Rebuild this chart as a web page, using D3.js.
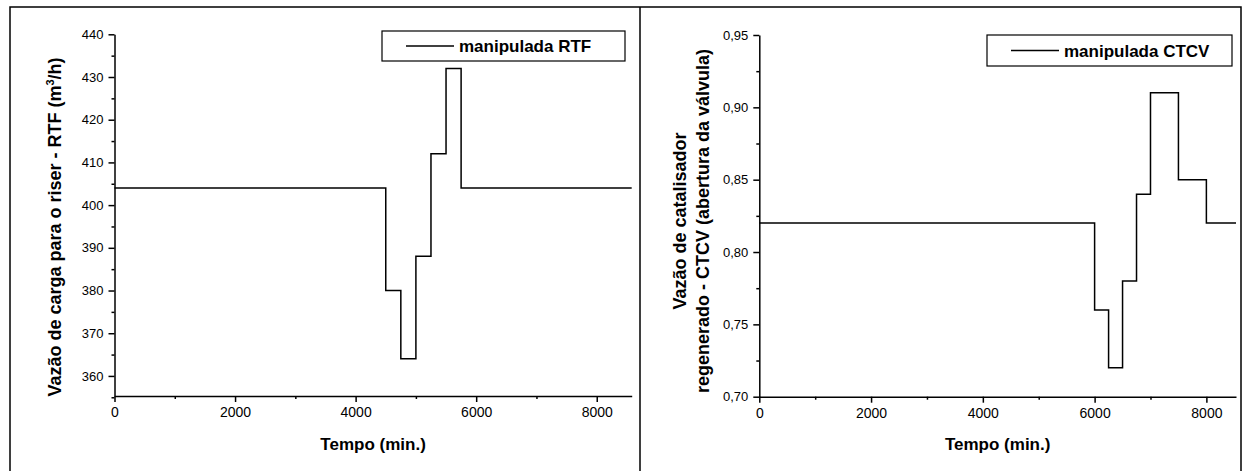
<!DOCTYPE html>
<html>
<head>
<meta charset="utf-8">
<script src="https://cdn.jsdelivr.net/npm/d3@7"></script>
<style>
  body { margin: 0; background: #fff; }
  svg { display: block; font-family: "Liberation Sans", Arial, sans-serif; }
  .tick text { fill: #000; }
</style>
</head>
<body>
<div id="chart"></div>
<script>
// data (step inputs)
const rtfTime = [0, 4500, 4750, 5000, 5250, 5500, 5750, 8580];
const rtfValue = [404, 380, 364, 388, 412, 432, 404, 404];
const ctcvTime = [0, 6000, 6250, 6500, 6750, 7000, 7500, 8000, 8530];
const ctcvValue = [0.82, 0.76, 0.72, 0.78, 0.84, 0.91, 0.85, 0.82, 0.82];

const xTicks = [0, 2000, 4000, 6000, 8000];
const xMinor = [1000, 3000, 5000, 7000];
const rtfTicks = [360, 370, 380, 390, 400, 410, 420, 430, 440];
const rtfMinor = [355, 365, 375, 385, 395, 405, 415, 425, 435];
const ctcvTicks = [0.70, 0.75, 0.80, 0.85, 0.90, 0.95];
const ctcvMinor = [0.725, 0.775, 0.825, 0.875, 0.925];

const svg = d3.select("#chart")
  .append("svg")
  .attr("width", 1242)
  .attr("height", 471);

// outer frame of the two panels
svg.append("path")
  .attr("d", "M10,471V7H1241V471 M640,7V471")
  .attr("fill", "none")
  .attr("stroke", "#000")
  .attr("stroke-width", 1.5);

function panel(opt) {
  const x = d3.scaleLinear().domain(opt.xDomain).range(opt.xRange);
  const y = d3.scaleLinear().domain(opt.yDomain).range(opt.yRange);
  const g = svg.append("g");

  // x axis
  const xa = g.append("g")
    .attr("transform", `translate(0,${opt.yRange[0]})`)
    .call(d3.axisBottom(x).tickValues(xTicks).tickSize(6).tickPadding(5)
      .tickSizeOuter(0).tickFormat(d3.format("d")));
  xa.selectAll("text").attr("font-size", 14);
  g.append("g")
    .attr("transform", `translate(0,${opt.yRange[0]})`)
    .call(d3.axisBottom(x).tickValues(xMinor).tickSize(3).tickFormat("").tickSizeOuter(0))
    .select(".domain").remove();

  // y axis
  const ya = g.append("g")
    .attr("transform", `translate(${opt.xRange[0]},0)`)
    .call(d3.axisLeft(y).tickValues(opt.yTicks).tickSize(6).tickPadding(5)
      .tickSizeOuter(0).tickFormat(opt.fmt));
  ya.selectAll("text").attr("font-size", 13);
  g.append("g")
    .attr("transform", `translate(${opt.xRange[0]},0)`)
    .call(d3.axisLeft(y).tickValues(opt.yMinor).tickSize(3).tickFormat("").tickSizeOuter(0))
    .select(".domain").remove();

  g.selectAll(".domain, .tick line").attr("stroke", "#000").attr("stroke-width", 1.5);

  // step line
  const pts = opt.time.map((t, i) => [t, opt.value[i]]);
  g.append("path")
    .datum(pts)
    .attr("fill", "none")
    .attr("stroke", "#000")
    .attr("stroke-width", 1.5)
    .attr("d", d3.line().x(d => x(d[0])).y(d => y(d[1])).curve(d3.curveStepAfter));

  // x title
  g.append("text")
    .attr("x", (opt.xRange[0] + opt.xRange[1]) / 2)
    .attr("y", 450)
    .attr("text-anchor", "middle")
    .attr("font-size", 17)
    .attr("font-weight", "bold")
    .text("Tempo (min.)");

  // y title (one or two lines)
  opt.yTitle.forEach((line, i) => {
    const t = g.append("text")
      .attr("transform", `translate(${opt.yTitleX[i]},${opt.yTitleY}) rotate(-90)`)
      .attr("text-anchor", "middle")
      .attr("font-size", 18)
      .attr("font-weight", "bold");
    line.forEach(part => {
      const s = t.append("tspan").text(part.t);
      if (part.sup) s.attr("font-size", 11).attr("dy", -7);
      if (part.after) s.attr("dy", 7);
    });
  });

  // legend
  const lg = opt.legend;
  g.append("rect")
    .attr("x", lg.x).attr("y", lg.y)
    .attr("width", lg.w).attr("height", lg.h)
    .attr("fill", "#fff").attr("stroke", "#000").attr("stroke-width", 1.2);
  g.append("line")
    .attr("x1", lg.x + 24).attr("x2", lg.x + 72)
    .attr("y1", lg.y + lg.h / 2).attr("y2", lg.y + lg.h / 2)
    .attr("stroke", "#000").attr("stroke-width", 1.5);
  g.append("text")
    .attr("x", lg.x + 77)
    .attr("y", lg.y + lg.h / 2 + 6)
    .attr("font-size", 17)
    .attr("font-weight", "bold")
    .text(lg.label);
}

panel({
  xDomain: [0, 8580], xRange: [114.5, 631.7],
  yDomain: [355.3, 440], yRange: [396, 34.3],
  yTicks: rtfTicks, yMinor: rtfMinor,
  fmt: d3.format("d"),
  time: rtfTime, value: rtfValue,
  yTitle: [[{ t: "Vazão de carga para o riser - RTF (m" }, { t: "3", sup: true }, { t: "/h)", after: true }]],
  yTitleX: [61], yTitleY: 227,
  legend: { x: 382, y: 31, w: 243, h: 30, label: "manipulada RTF" }
});

panel({
  xDomain: [0, 8530], xRange: [759.3, 1236],
  yDomain: [0.70, 0.95], yRange: [396.7, 35],
  yTicks: ctcvTicks, yMinor: ctcvMinor,
  fmt: d => d3.format(".2f")(d).replace(".", ","),
  time: ctcvTime, value: ctcvValue,
  yTitle: [[{ t: "Vazão de catalisador" }], [{ t: "regenerado - CTCV (abertura da válvula)" }]],
  yTitleX: [686, 709], yTitleY: 221,
  legend: { x: 987, y: 35, w: 245, h: 31, label: "manipulada CTCV" }
});
</script>
</body>
</html>
